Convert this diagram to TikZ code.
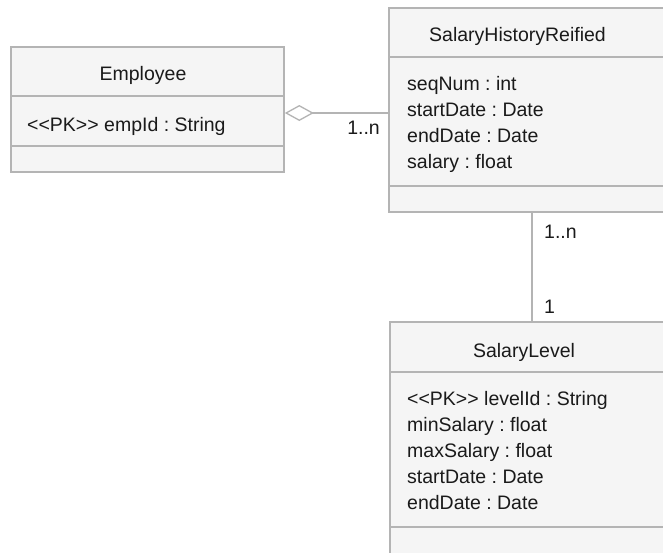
\documentclass[tikz,border=0pt]{standalone}
\usepackage{fontspec}
\setmainfont[Ligatures=NoCommon]{Liberation Sans}
\frenchspacing
\usetikzlibrary{arrows.meta}
\definecolor{umlline}{HTML}{B4B4B4}
\definecolor{umlfill}{HTML}{F5F5F5}
\definecolor{umltext}{HTML}{1A1A1A}
\newcommand{\pk}{{<}{<}PK{>}{>}}
\tikzset{
  classbox/.style={draw=umlline, fill=umlfill, line width=1.6pt, rectangle, inner sep=0pt},
  sepline/.style={draw=umlline, line width=1.6pt},
  conn/.style={draw=umlline, line width=1.6pt},
  txt/.style={inner sep=0pt, text=umltext, font=\fontsize{19.5}{26}\selectfont},
  title/.style={txt, anchor=base},
  attr/.style={txt, anchor=base west},
  mult/.style={txt}
}
\begin{document}
\begin{tikzpicture}[x=1pt, y=-1pt]
\useasboundingbox (0,0) rectangle (663,552);
\clip (0,0) rectangle (663,552);
\fill[white] (0,0) rectangle (663,552);

% Employee class
\node[classbox, minimum width=273pt, minimum height=125pt] (emp) at (147.5,109.5) {};
\coordinate (e1) at (0,96);
\coordinate (e2) at (0,146);
\draw[sepline] (emp.west |- e1) -- (emp.east |- e1);
\draw[sepline] (emp.west |- e2) -- (emp.east |- e2);
\node[title] (empname) at (143,80) {Employee};
\node[attr] (empa1) at (27,131) {\pk\ empId : String};

% SalaryHistoryReified class
\node[classbox, minimum width=301pt, minimum height=204pt] (shr) at (539.5,110) {};
\coordinate (s1) at (0,57);
\coordinate (s2) at (0,186);
\draw[sepline] (shr.west |- s1) -- (shr.east |- s1);
\draw[sepline] (shr.west |- s2) -- (shr.east |- s2);
\node[title] (shrname) at (517.5,41) {SalaryHistoryReified};
\node[attr] (shra1) at (407,90) {seqNum : int};
\node[attr] (shra2) at (407,116) {startDate : Date};
\node[attr] (shra3) at (407,142) {endDate : Date};
\node[attr] (shra4) at (407,168) {salary : float};

% SalaryLevel class
\node[classbox, minimum width=300pt, minimum height=258pt] (sl) at (540,451) {};
\coordinate (l1) at (0,372);
\coordinate (l2) at (0,527);
\draw[sepline] (sl.west |- l1) -- (sl.east |- l1);
\draw[sepline] (sl.west |- l2) -- (sl.east |- l2);
\node[title] (slname) at (524,357) {SalaryLevel};
\node[attr] (sla1) at (407,405) {\pk\ levelId : String};
\node[attr] (sla2) at (407,431) {minSalary : float};
\node[attr] (sla3) at (407,457) {maxSalary : float};
\node[attr] (sla4) at (407,483) {startDate : Date};
\node[attr] (sla5) at (407,509) {endDate : Date};

% Aggregation Employee <>-- SalaryHistoryReified
\coordinate (aggy) at (0,113);
\draw[conn, {Diamond[open, fill=white, length=29pt, width=16pt, line width=1.3pt]}-]
  (emp.east |- aggy) -- (shr.west |- aggy);
\node[mult, anchor=base east] (m1) at (380,134) {1..n};

% Association SalaryHistoryReified -- SalaryLevel
\coordinate (assx) at (532,0);
\draw[conn] (shr.south -| assx) -- (sl.north -| assx);
\node[mult, anchor=base west] (m2) at (544,238) {1..n};
\node[mult, anchor=base west] (m3) at (544,313) {1};
\end{tikzpicture}
\end{document}
